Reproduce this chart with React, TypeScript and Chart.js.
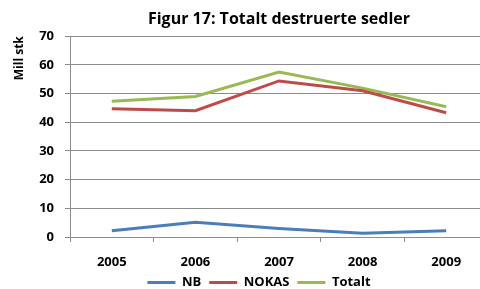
import { useEffect, useRef } from "react";
import { Chart, registerables } from "chart.js";

Chart.register(...registerables);

const chartTitle = "Figur 17: Totalt destruerte sedler";
const yAxisTitle = "Mill stk";
const categories = ["2005", "2006", "2007", "2008", "2009"];
const seriesNames = ["NB", "NOKAS", "Totalt"];
const nbValues = [2.2, 5.1, 3.0, 1.3, 2.2];
const nokasValues = [44.7, 44.0, 54.4, 51.0, 43.3];
const totaltValues = [47.3, 49.0, 57.5, 51.9, 45.4];
const seriesColors = ["#4a7ebb", "#be4b48", "#98b954"];
const yMin = 0;
const yMax = 70;
const yStep = 10;

const FONT = "'Open Sans', 'DejaVu Sans', sans-serif";
const GRID = "#8c8c8c";

const legendShift = {
  id: "legendShift",
  afterLayout(chart: any) {
    const l = chart.legend;
    if (l) {
      l.left += 15;
      l.right += 15;
    }
  },
};

export default function App() {
  const ref = useRef<HTMLCanvasElement | null>(null);

  useEffect(() => {
    if (!ref.current) return;
    const values = [nbValues, nokasValues, totaltValues];
    const chart = new Chart(ref.current, {
      type: "line",
      data: {
        labels: categories,
        datasets: seriesNames.map((name, i) => ({
          label: name,
          data: values[i],
          borderColor: seriesColors[i],
          backgroundColor: seriesColors[i],
          borderWidth: 3,
          pointRadius: 0,
          tension: 0,
          fill: false,
        })),
      },
      plugins: [legendShift],
      options: {
        animation: false,
        responsive: false,
        maintainAspectRatio: false,
        layout: { padding: { left: 0, right: 2, top: 0, bottom: 0 } },
        plugins: {
          title: {
            display: true,
            text: chartTitle,
            fullSize: false,
            color: "#000",
            font: { family: FONT, size: 16, weight: "bold" },
            padding: { top: 10, bottom: 7 },
          },
          legend: {
            position: "bottom",
            labels: {
              boxWidth: 28,
              boxHeight: 3,
              padding: 8,
              color: "#000",
              font: { family: FONT, size: 13, weight: "bold" },
              generateLabels: (c: any) =>
                c.data.datasets.map((d: any, i: number) => ({
                  text: d.label,
                  fillStyle: d.borderColor,
                  strokeStyle: d.borderColor,
                  lineWidth: 0,
                  hidden: false,
                  datasetIndex: i,
                  fontColor: "#000",
                })),
            },
          },
          tooltip: { enabled: false },
        },
        scales: {
          x: {
            type: "category",
            offset: true,
            afterFit: (s: any) => {
              s.height = 31;
            },
            grid: {
              display: true,
              drawOnChartArea: false,
              drawTicks: true,
              tickLength: 5,
              offset: true,
              color: GRID,
            },
            border: { display: true, color: GRID },
            ticks: {
              color: "#000",
              padding: 12,
              font: { family: FONT, size: 13, weight: "bold" },
              maxRotation: 0,
            },
          },
          y: {
            min: yMin,
            max: yMax,
            afterFit: (s: any) => {
              s.width = 70;
            },
            ticks: {
              stepSize: yStep,
              color: "#000",
              padding: 11,
              font: { family: FONT, size: 13, weight: "bold" },
            },
            grid: { color: GRID, tickLength: 5, drawTicks: true },
            border: { display: true, color: GRID },
            title: {
              display: true,
              text: yAxisTitle,
              align: "end",
              color: "#000",
              font: { family: FONT, size: 12, weight: "bold" },
              padding: { top: 12, bottom: 0 },
            },
          },
        },
      },
    } as any);
    return () => chart.destroy();
  }, []);

  return (
    <div
      style={{
        position: "absolute",
        left: 0,
        top: 0,
        width: 480,
        height: 289,
        overflow: "hidden",
        background: "#fff",
      }}
    >
      <canvas ref={ref} width={490} height={299} style={{ width: 490, height: 299, display: "block" }} />
    </div>
  );
}
